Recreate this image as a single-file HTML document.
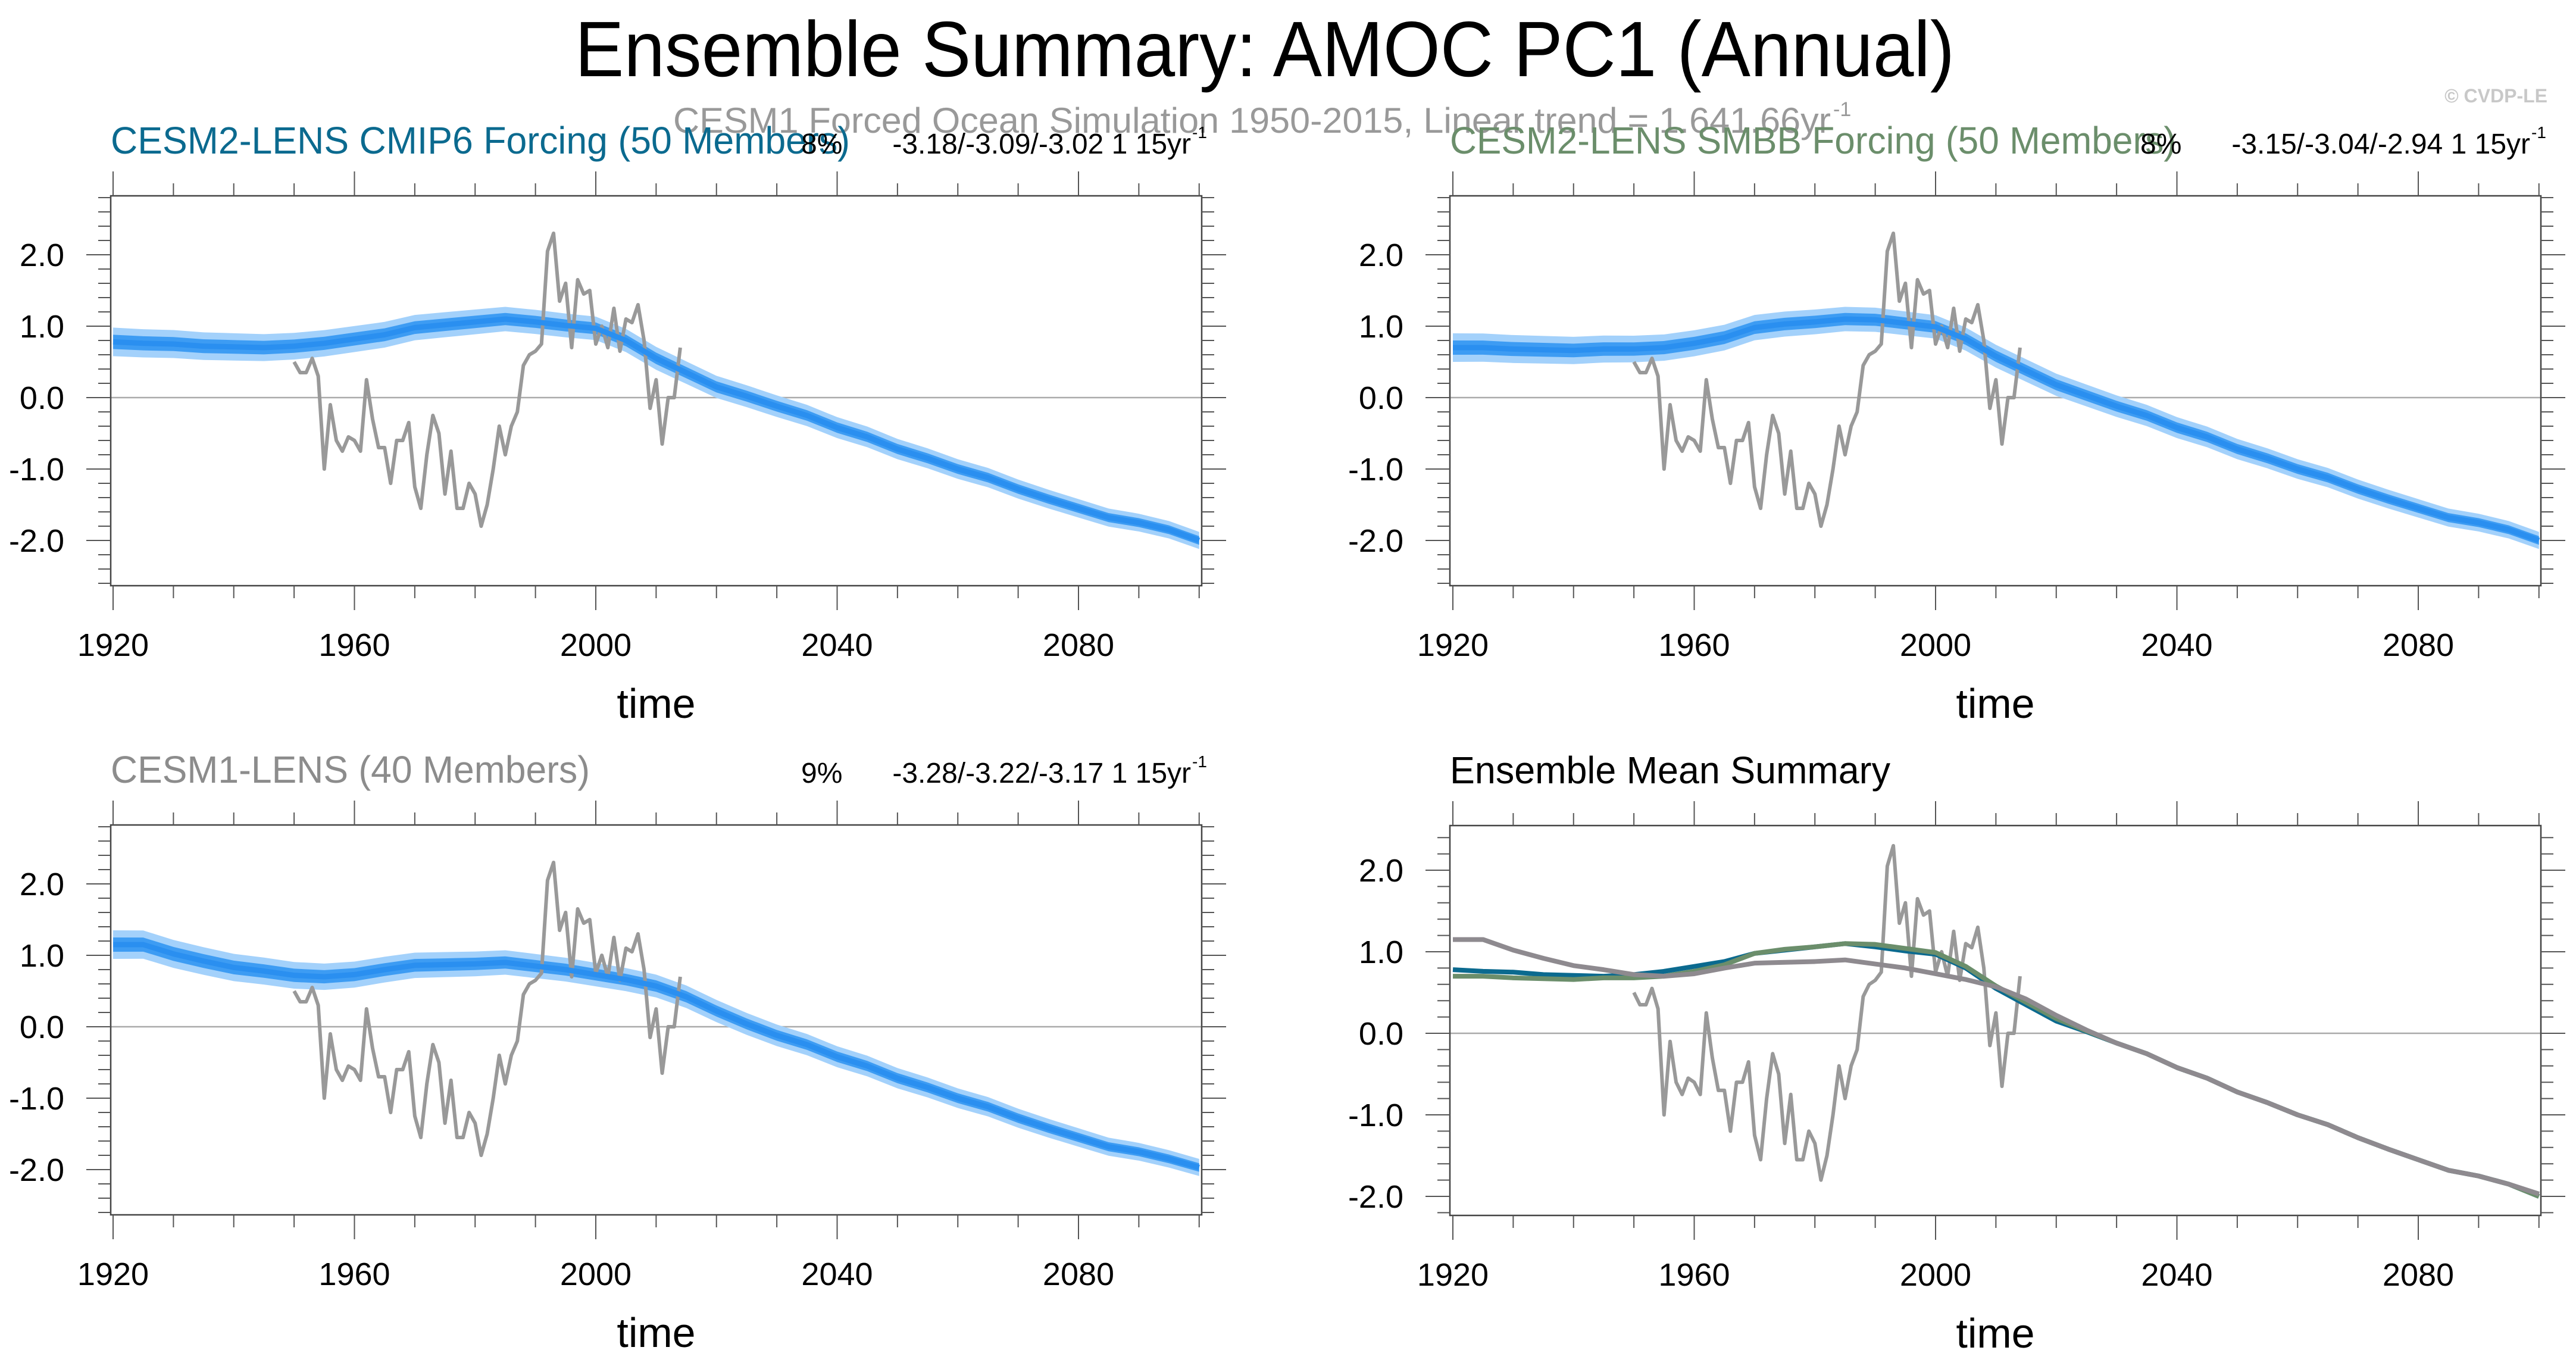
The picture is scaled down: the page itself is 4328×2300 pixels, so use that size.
<!DOCTYPE html>
<html><head><meta charset="utf-8"><style>
html,body{margin:0;padding:0;background:#fff;}
svg{display:block;font-family:"Liberation Sans",Arial,sans-serif;}
</style></head><body>
<svg id="fig" width="4328" height="2300" viewBox="0 0 4328 2300" xmlns="http://www.w3.org/2000/svg">
<rect width="4328" height="2300" fill="#fff"/>
<text x="966" y="128" font-size="132" textLength="2318" lengthAdjust="spacingAndGlyphs">Ensemble Summary: AMOC PC1 (Annual)</text>
<text x="4280" y="172" font-size="32" fill="#c8c8c8" text-anchor="end" font-weight="bold">© CVDP-LE</text>
<text x="1131" y="223" font-size="60" fill="#999" textLength="1945" lengthAdjust="spacingAndGlyphs">CESM1 Forced Ocean Simulation 1950-2015, Linear trend = 1.641.66yr</text>
<text x="3080" y="195" font-size="34" fill="#999">-1</text>
<g id="panels"></g>
</svg>
<script>
// ---- data ----
const years = [1920,1925,1930,1935,1940,1945,1950,1955,1960,1965,1970,1975,1980,1985,1990,1995,2000,2005,2010,2015,2020,2025,2030,2035,2040,2045,2050,2055,2060,2065,2070,2075,2080,2085,2090,2095,2100];
const cmip6Mean = [.78,.76,.75,.72,.71,.70,.72,.76,.82,.88,.98,1.02,1.06,1.10,1.06,1.01,.97,.80,.55,.35,.15,.02,-.12,-.25,-.42,-.55,-.72,-.85,-1.0,-1.12,-1.28,-1.42,-1.55,-1.68,-1.75,-1.85,-2.0];
const smbbMean = [.70,.70,.68,.67,.66,.68,.68,.70,.76,.84,.98,1.03,1.06,1.10,1.09,1.04,.99,.82,.58,.38,.18,.03,-.12,-.25,-.42,-.55,-.72,-.85,-1.0,-1.12,-1.28,-1.42,-1.55,-1.68,-1.75,-1.85,-2.0];
const cesm1Mean = [1.15,1.15,1.02,.92,.83,.78,.72,.70,.73,.80,.86,.87,.88,.90,.85,.80,.73,.66,.57,.42,.22,.04,-.12,-.25,-.42,-.55,-.72,-.85,-1.0,-1.12,-1.28,-1.42,-1.55,-1.68,-1.75,-1.85,-1.97];
const outerSpread = [0.2,0.12];
const innerSpread = [0.1,0.06];
const obsStart = 1950;
const obsValues = [0.5,0.35,0.35,0.55,0.3,-1.0,-0.1,-0.6,-0.75,-0.55,-0.6,-0.75,0.25,-0.3,-0.7,-0.7,-1.2,-0.6,-0.6,-0.35,-1.25,-1.55,-0.8,-0.25,-0.5,-1.35,-0.75,-1.55,-1.55,-1.2,-1.35,-1.8,-1.5,-1.0,-0.4,-0.8,-0.4,-0.2,0.45,0.6,0.65,0.75,2.05,2.3,1.35,1.6,0.7,1.65,1.45,1.5,0.75,1.0,0.7,1.25,0.65,1.1,1.05,1.3,0.8,-0.15,0.25,-0.65,0.0,0.0,0.7];
const xTickLabels = ["1920","1960","2000","2040","2080"];
const yTickLabels = ["-2.0","-1.0","0.0","1.0","2.0"];

const NS="http://www.w3.org/2000/svg";
const root=document.getElementById('panels');
function mk(tag,attrs,parent){const e=document.createElementNS(NS,tag);for(const k in attrs)e.setAttribute(k,attrs[k]);(parent||root).appendChild(e);return e;}

function drawPanel(p){
  const g=mk('g',{});
  
  
  const X=yr=>p.x1920+(yr-1920)*10.1375;
  const Y=v=>p.y0-v*p.unit;
  const L=p.left,R=p.right,T=p.top,B=p.bottom;
  const cid='clip'+p.id;
  const cp=mk('clipPath',{id:cid},g);mk('rect',{x:L,y:T,width:R-L,height:B-T},cp);
  const z=mk('line',{x1:L,x2:R,y1:Y(0),y2:Y(0),stroke:'#aaa','stroke-width':2.5},g);
  
  
  const body=mk('g',{'clip-path':'url(#'+cid+')'},g);
  if(p.bands){
    const spreadAt=i=>i/(years.length-1);
    [[outerSpread,'#a3d1fb','outer-spread-band'],[innerSpread,'#3d9cf3','inner-spread-band']].forEach(([sp,col,nm])=>{
      let up=[],dn=[];
      years.forEach((yr,i)=>{const s=sp[0]+(sp[1]-sp[0])*spreadAt(i);up.push(X(yr)+','+Y(p.series[0].data[i]+s));dn.unshift(X(yr)+','+Y(p.series[0].data[i]-s));});
      const poly=mk('polygon',{points:up.concat(dn).join(' '),fill:col},body);
      
      
    });
  }
  const op=obsValues.map((v,i)=>X(obsStart+i)+','+Y(v)).join(' ');
  const ol=mk('polyline',{points:op,fill:'none',stroke:'#999','stroke-width':6,'stroke-linejoin':'round'},body);
  
  
  p.series.forEach(s=>{
    const pts=years.map((yr,i)=>X(yr)+','+Y(s.data[i])).join(' ');
    const l=mk('polyline',{points:pts,fill:'none',stroke:s.color,'stroke-width':s.w,'stroke-linejoin':'round'},body);
    
    
  });
  const bx=mk('rect',{x:L,y:T,width:R-L,height:B-T,fill:'none',stroke:'#444','stroke-width':2.5},g);
  
  
  for(let yr=1920;yr<=2100;yr+=10){
    const major=(yr-1920)%40===0&&yr<=2080;const len=major?41:21;const x=X(yr);
    mk('line',{x1:x,x2:x,y1:T,y2:T-len,stroke:'#555','stroke-width':2},g);
    mk('line',{x1:x,x2:x,y1:B,y2:B+len,stroke:'#555','stroke-width':2},g);
  }
  xTickLabels.forEach(lab=>{
    const t=mk('text',{x:X(+lab),y:B+118,'font-size':54,'text-anchor':'middle'},g);t.textContent=lab;
    
    
  });
  const vmin=(p.y0-B)/p.unit, vmax=(p.y0-T)/p.unit;
  for(let k=Math.ceil(vmin*5-1e-6);k<=Math.floor(vmax*5+1e-6);k++){
    const v=k/5;const major=k%5===0;const len=major?41:21;const y=Y(v);
    mk('line',{x1:L,x2:L-len,y1:y,y2:y,stroke:'#555','stroke-width':2},g);
    mk('line',{x1:R,x2:R+len,y1:y,y2:y,stroke:'#555','stroke-width':2},g);
  }
  yTickLabels.forEach(lab=>{
    const t=mk('text',{x:L-78,y:Y(+lab)+19,'font-size':54,'text-anchor':'end'},g);t.textContent=lab;
    
    
  });
  const xt=mk('text',{x:(L+R)/2,y:B+222,'font-size':70,'text-anchor':'middle'},g);xt.textContent='time';
  
  
  const tt=mk('text',{x:L,y:T-71,'font-size':64,fill:p.titleColor,textLength:p.titleLen,lengthAdjust:'spacingAndGlyphs'},g);tt.textContent=p.title;
  
  
  if(p.pct){
    const pc=mk('text',{x:L+1160,y:T-71,'font-size':48},g);pc.textContent=p.pct;
    
    
    const tr=mk('text',{x:R-18,y:T-71,'font-size':48,'text-anchor':'end'},g);tr.textContent=p.trend;
    
    
    const sp=mk('text',{x:R-16,y:T-97,'font-size':28},g);sp.textContent='-1';
    
    
  }
}

drawPanel({id:1,name:'panel-cesm2-cmip6',left:186,right:2019,top:329,bottom:984,x1920:190,y0:668,unit:120,bands:true,
  series:[{data:cmip6Mean,color:'#2a8ff0',w:9,name:'ensemble-mean-line'}],
  title:'CESM2-LENS CMIP6 Forcing (50 Members)',titleColor:'#0b6a8f',titleLen:1242,pct:'8%',trend:'-3.18/-3.09/-3.02 1 15yr'});
drawPanel({id:2,name:'panel-cesm2-smbb',left:2436,right:4269,top:329,bottom:984,x1920:2441,y0:668,unit:120,bands:true,
  series:[{data:smbbMean,color:'#2a8ff0',w:9,name:'ensemble-mean-line'}],
  title:'CESM2-LENS SMBB Forcing (50 Members)',titleColor:'#6b8e6b',titleLen:1220,pct:'8%',trend:'-3.15/-3.04/-2.94 1 15yr'});
drawPanel({id:3,name:'panel-cesm1-lens',left:186,right:2019,top:1386,bottom:2041,x1920:190,y0:1725,unit:120,bands:true,
  series:[{data:cesm1Mean,color:'#2a8ff0',w:9,name:'ensemble-mean-line'}],
  title:'CESM1-LENS (40 Members)',titleColor:'#8c8c8c',titleLen:805,pct:'9%',trend:'-3.28/-3.22/-3.17 1 15yr'});
drawPanel({id:4,name:'panel-ensemble-mean-summary',left:2436,right:4269,top:1387,bottom:2042,x1920:2441,y0:1736,unit:137,bands:false,
  series:[{data:cmip6Mean,color:'#0b6a8f',w:8,name:'cmip6-mean-line'},{data:smbbMean,color:'#6b8e6b',w:8,name:'smbb-mean-line'},{data:cesm1Mean,color:'#8e8a8f',w:8,name:'cesm1-mean-line'}],
  title:'Ensemble Mean Summary',titleColor:'#000',titleLen:740});
</script>
</body></html>
